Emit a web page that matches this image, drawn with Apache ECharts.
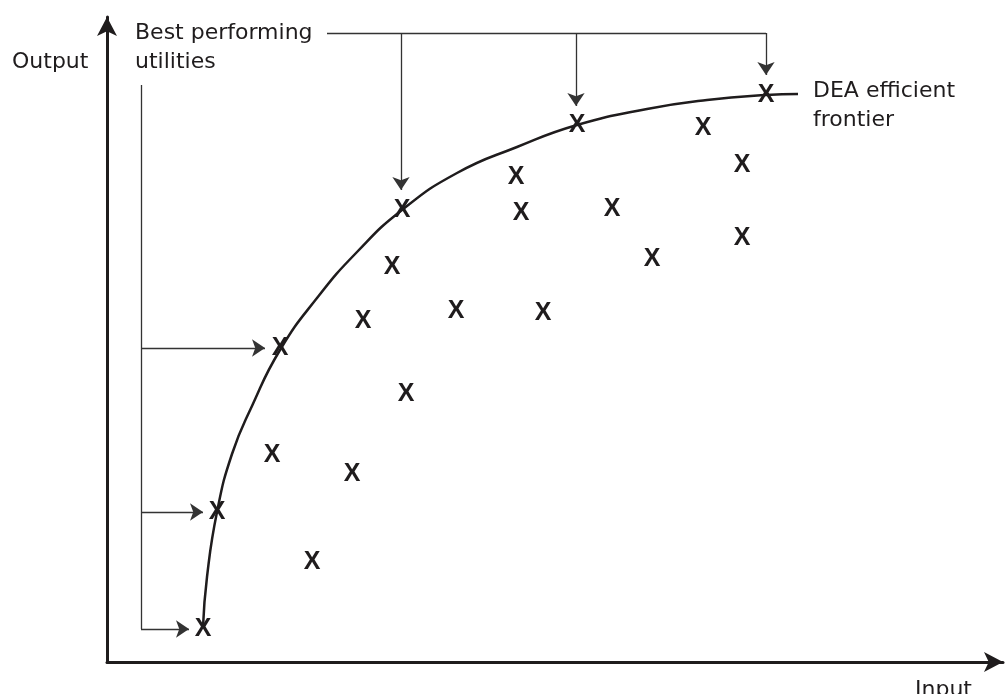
<!DOCTYPE html>
<html>
<head>
<meta charset="utf-8">
<title>DEA efficient frontier</title>
<script src="https://cdn.jsdelivr.net/npm/echarts@6/dist/echarts.min.js"></script>
<style>
  html, body { margin: 0; padding: 0; background: #fff; }
  #chart { width: 1005px; height: 694px; }
</style>
</head>
<body>
<div id="chart"></div>
<script>
// values (input, output)
const frontierUtilities = [[96, 33], [110, 150], [173, 314], [295, 452], [470, 537], [659, 567]]
const otherUtilities = [
  [205, 100], [165, 207], [245, 188], [299, 268], [256, 341], [285, 395],
  [349, 351], [436, 349], [409, 485], [414, 449], [505, 453], [545, 403],
  [596, 534], [635, 497], [635, 424]
]
// points read along the drawn frontier
const frontierCurve = [
  [96, 35], [100, 85], [110, 150], [125, 208], [145, 256], [173, 312],
  [210, 364], [250, 410], [295, 452], [350, 489], [410, 515], [470, 537],
  [540, 553], [600, 562], [659, 567], [691, 568]
]
// annotation leaders: best performing utilities -> points on frontier
const leaderStems = [
  [[220, 629], [659, 629]],
  [[34, 577], [34, 33]]
]
const leaderArrows = [
  [[659, 629], [659, 587]],
  [[294, 629], [294, 472]],
  [[469, 629], [469, 556]],
  [[34, 33], [82, 33]],
  [[34, 314], [158, 314]],
  [[34, 150], [96, 150]]
]

const ink = '#1f1c1d'
const font = '"DejaVu Sans", "Liberation Sans", Arial, sans-serif'
const markFont = '"Liberation Sans", Arial, sans-serif'

const chart = echarts.init(document.getElementById('chart'), null, { renderer: 'canvas' })

const text = (str, x, y) => ({
  type: 'text',
  left: x,
  top: y,
  style: { text: str, fill: ink, font: '22px ' + font }
})

const axisStyle = {
  show: true,
  symbol: ['none', 'arrow'],
  symbolSize: [15, 19],
  lineStyle: { color: ink, width: 3 }
}

const leaderLine = { color: '#333', width: 1.3, opacity: 1 }

const xLabel = {
  show: true,
  position: 'inside',
  formatter: 'X',
  color: ink,
  opacity: 1,
  fontSize: 25,
  fontWeight: 'bold',
  fontFamily: markFont
}

chart.setOption({
  backgroundColor: '#fff',
  animation: false,
  grid: { left: 107, right: 2, top: 17, bottom: 32 },
  xAxis: {
    type: 'value',
    min: 0,
    max: 896,
    axisLine: axisStyle,
    axisTick: { show: false },
    axisLabel: { show: false },
    splitLine: { show: false }
  },
  yAxis: {
    type: 'value',
    min: 0,
    max: 645,
    axisLine: axisStyle,
    axisTick: { show: false },
    axisLabel: { show: false },
    splitLine: { show: false }
  },
  graphic: [
    text('Output', 12, 51),
    text('Best performing', 135, 22),
    text('utilities', 135, 51),
    text('DEA efficient', 813, 80),
    text('frontier', 813, 109),
    text('Input', 915, 679)
  ],
  series: [
    {
      name: 'frontier',
      type: 'line',
      data: frontierCurve,
      smooth: 0.5,
      showSymbol: false,
      silent: true,
      lineStyle: { color: ink, width: 2.5 }
    },
    {
      name: 'stems',
      type: 'lines',
      coordinateSystem: 'cartesian2d',
      silent: true,
      symbol: 'none',
      lineStyle: leaderLine,
      data: leaderStems.map(c => ({ coords: c }))
    },
    {
      name: 'arrows',
      type: 'lines',
      coordinateSystem: 'cartesian2d',
      silent: true,
      symbol: ['none', 'arrow'],
      symbolSize: 13,
      itemStyle: { color: ink },
      lineStyle: leaderLine,
      data: leaderArrows.map(c => ({ coords: c }))
    },
    {
      name: 'best',
      type: 'scatter',
      data: frontierUtilities,
      symbolSize: 1,
      silent: true,
      itemStyle: { color: 'transparent', opacity: 1 },
      label: xLabel
    },
    {
      name: 'others',
      type: 'scatter',
      data: otherUtilities,
      symbolSize: 1,
      silent: true,
      itemStyle: { color: 'transparent', opacity: 1 },
      label: xLabel
    }
  ]
})
</script>
</body>
</html>
